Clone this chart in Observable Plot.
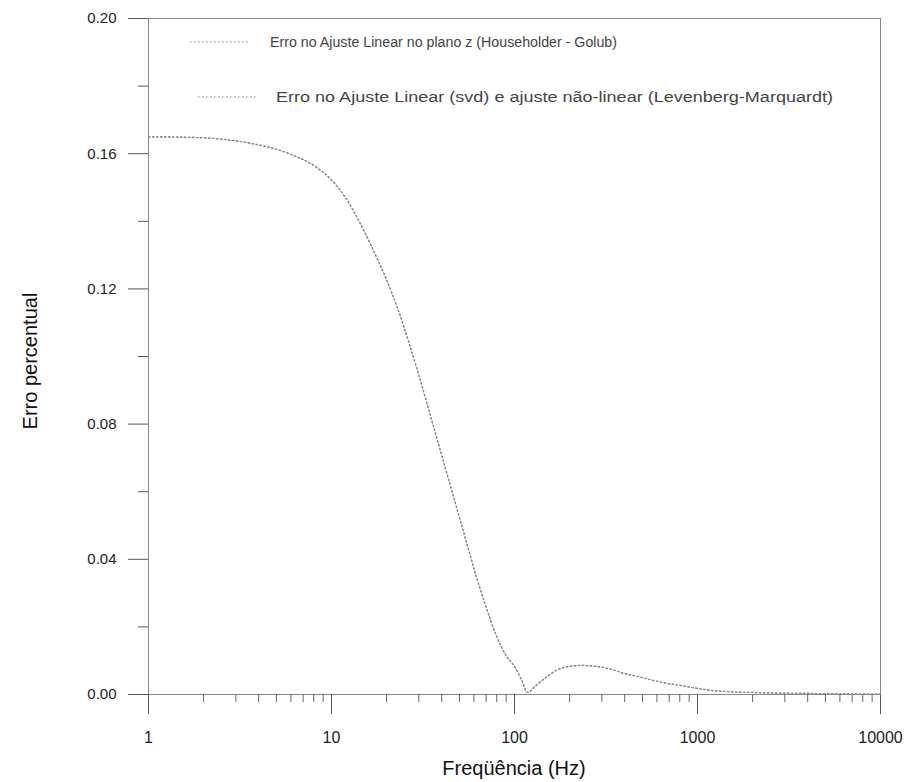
<!DOCTYPE html>
<html>
<head>
<meta charset="utf-8">
<script src="https://cdn.jsdelivr.net/npm/d3@7"></script>
<script src="https://cdn.jsdelivr.net/npm/@observablehq/plot@0.6"></script>
<style>
  html, body { margin: 0; padding: 0; background: #fff; }
  #chart { width: 918px; height: 782px; }
  svg { font-family: Arial, "Liberation Sans", sans-serif; }
</style>
</head>
<body>
<div id="chart"></div>
<script>
// ---- data ----
const freq = [1, 1.5, 2, 3, 4, 5, 6, 8, 10, 12, 14, 17, 20, 23, 27, 30, 34, 40, 45, 50, 55, 61, 70, 80, 90, 100, 110, 118, 130, 148, 178, 200, 230, 270, 306, 350, 400, 450, 550, 650, 800, 1000, 1200, 1500, 2000, 2300, 3000, 4300, 6000, 10000];
const erroHouseholder = [0.1650, 0.1649, 0.1647, 0.1638, 0.1626, 0.1613, 0.1598, 0.1565, 0.1522, 0.1468, 0.1405, 0.1312, 0.1227, 0.1142, 0.1027, 0.0945, 0.0842, 0.0708, 0.0611, 0.0524, 0.0445, 0.0360, 0.0258, 0.0171, 0.0115, 0.0083, 0.0040, 0.0006, 0.0025, 0.0050, 0.0077, 0.0083, 0.0086, 0.0084, 0.0080, 0.0072, 0.0062, 0.0056, 0.0044, 0.0035, 0.0027, 0.0018, 0.0012, 0.0008, 0.0006, 0.0005, 0.0004, 0.0003, 0.0002, 0.0001];
const erroSvdLM = [0.1650, 0.1649, 0.1647, 0.1638, 0.1626, 0.1613, 0.1598, 0.1565, 0.1522, 0.1468, 0.1405, 0.1312, 0.1227, 0.1142, 0.1027, 0.0945, 0.0842, 0.0708, 0.0611, 0.0524, 0.0445, 0.0360, 0.0258, 0.0171, 0.0115, 0.0083, 0.0040, 0.0006, 0.0025, 0.0050, 0.0077, 0.0083, 0.0086, 0.0084, 0.0080, 0.0072, 0.0062, 0.0056, 0.0044, 0.0035, 0.0027, 0.0018, 0.0012, 0.0008, 0.0006, 0.0005, 0.0004, 0.0003, 0.0002, 0.0001];
const seriesNames = [
  "Erro no Ajuste Linear no plano z (Householder - Golub)",
  "Erro no Ajuste Linear (svd) e ajuste não-linear (Levenberg-Marquardt)"
];
const xMajorTicks = [1, 10, 100, 1000, 10000];
const xMinorMultipliers = [2, 3, 4, 5, 6, 7, 8, 9];
const yMajorTicks = [0, 0.04, 0.08, 0.12, 0.16, 0.20];
const yMinorTicks = [0.02, 0.06, 0.10, 0.14, 0.18];
const xTitle = "Freqüência (Hz)";
const yTitle = "Erro percentual";

// ---- build table ----
const rows = [];
freq.forEach((f, i) => rows.push({f, e: erroHouseholder[i], s: seriesNames[0]}));
freq.forEach((f, i) => rows.push({f, e: erroSvdLM[i], s: seriesNames[1]}));
const xMinorTicks = xMajorTicks.slice(0, -1).flatMap(d => xMinorMultipliers.map(m => d * m));

const W = 918, H = 782;
const mL = 148, mR = 38, mT = 18, mB = 88;

const chart = Plot.plot({
  width: W,
  height: H,
  marginLeft: mL,
  marginRight: mR,
  marginTop: mT,
  marginBottom: mB,
  style: {fontFamily: "Arial, 'Liberation Sans', sans-serif", background: "#fff", color: "#222"},
  x: {type: "log", domain: [1, 10000]},
  y: {domain: [0, 0.2]},
  marks: [
    Plot.frame({stroke: "#888", strokeWidth: 1}),
    // y axis minor and major ticks
    Plot.axisY({ticks: yMinorTicks, tickSize: 10, tickFormat: () => "", stroke: "#555", label: null}),
    Plot.axisY({ticks: yMajorTicks, tickSize: 20, tickPadding: 12, tickFormat: d3.format(".2f"),
      fontSize: 15, fill: "#222", stroke: "#555", label: null}),
    // x axis minor and major ticks
    Plot.axisX({ticks: xMinorTicks, tickSize: 8, tickFormat: () => "", stroke: "#666", label: null}),
    Plot.axisX({ticks: xMajorTicks, tickSize: 20, tickPadding: 17, tickFormat: d => String(d),
      fontSize: 16, fill: "#222", stroke: "#555", label: null}),
    Plot.line(rows, {x: "f", y: "e", z: "s", stroke: "#888", strokeWidth: 1.2,
      strokeDasharray: "1.5,2.5", curve: "monotone-x"})
  ]
});

const svg = d3.select(chart);
// Axis titles
svg.append("text")
  .attr("x", (mL + (W - mR)) / 2)
  .attr("y", 775)
  .attr("text-anchor", "middle")
  .attr("font-size", 20)
  .attr("fill", "#111")
  .text(xTitle);
svg.append("text")
  .attr("transform", `translate(37,${(mT + (H - mB)) / 2 + 5}) rotate(-90)`)
  .attr("text-anchor", "middle")
  .attr("font-size", 20)
  .attr("fill", "#111")
  .text(yTitle);

// Legend inside the frame
const legendY = [42, 97];
const legendSampleX = [[190, 248], [198, 256]];
const legendTextX = [270, 276];
const legendTextLen = [347, 557];
seriesNames.forEach((name, i) => {
  svg.append("line")
    .attr("x1", legendSampleX[i][0]).attr("x2", legendSampleX[i][1])
    .attr("y1", legendY[i]).attr("y2", legendY[i])
    .attr("stroke", "#888").attr("stroke-width", 1.2)
    .attr("stroke-dasharray", "1.5,2.5");
  svg.append("text")
    .attr("x", legendTextX[i]).attr("y", legendY[i] + 5)
    .attr("text-anchor", "start")
    .attr("font-size", 14)
    .attr("fill", "#444")
    .attr("textLength", legendTextLen[i])
    .attr("lengthAdjust", "spacingAndGlyphs")
    .text(name);
});

document.getElementById("chart").appendChild(chart);
</script>
</body>
</html>
